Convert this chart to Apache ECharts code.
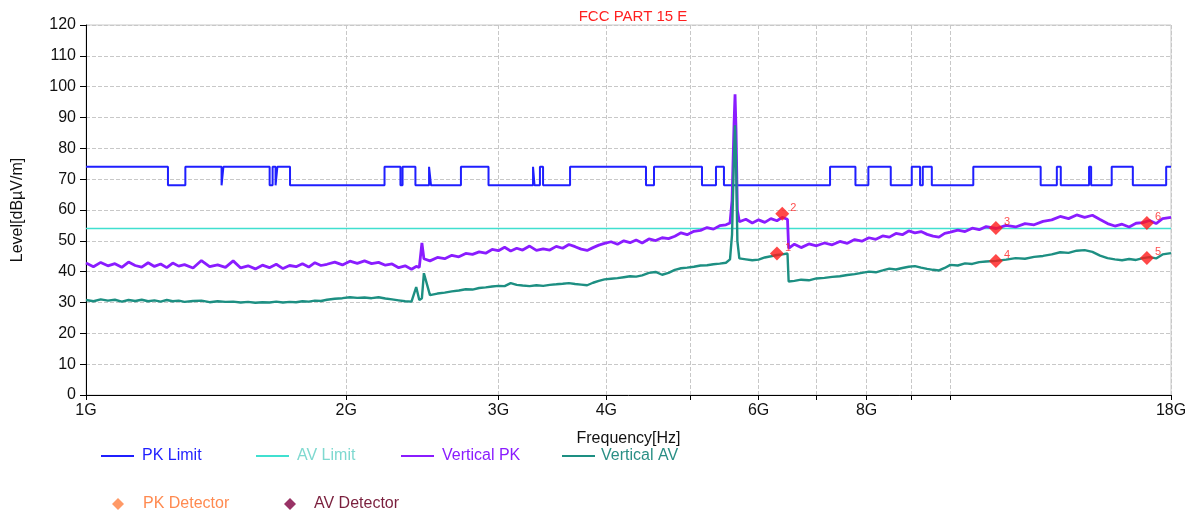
<!DOCTYPE html>
<html>
<head>
<meta charset="utf-8">
<title>FCC PART 15 E</title>
<script src="https://cdn.jsdelivr.net/npm/echarts@6/dist/echarts.min.js"></script>
<style>
  html, body { margin: 0; padding: 0; background: #fff; }
  #chart { width: 1192px; height: 515px; }
</style>
</head>
<body>
<div id="chart"></div>
<script>
// sweep points, GHz
const freqGHz = [
  1.00, 1.02, 1.04, 1.06, 1.08, 1.10, 1.12, 1.14, 1.16, 1.18,
  1.20, 1.22, 1.24, 1.26, 1.28, 1.30, 1.33, 1.36, 1.39, 1.42,
  1.45, 1.48, 1.51, 1.54, 1.57, 1.60, 1.63, 1.66, 1.69, 1.72,
  1.75, 1.78, 1.81, 1.84, 1.87, 1.90, 1.94, 1.98, 2.02, 2.06,
  2.10, 2.14, 2.18, 2.22, 2.26, 2.30, 2.34, 2.38, 2.41, 2.43,
  2.447, 2.46, 2.50, 2.55, 2.60, 2.65, 2.70, 2.75, 2.80, 2.85,
  2.90, 2.95, 3.00, 3.05, 3.10, 3.15, 3.20, 3.26, 3.32, 3.38,
  3.44, 3.50, 3.56, 3.62, 3.68, 3.74, 3.80, 3.86, 3.92, 3.98,
  4.05, 4.12, 4.19, 4.26, 4.33, 4.40, 4.48, 4.56, 4.64, 4.72,
  4.80, 4.88, 4.96, 5.05, 5.14, 5.23, 5.32, 5.41, 5.50, 5.56,
  5.59, 5.62, 5.635, 5.65, 5.67, 5.70, 5.80, 5.90, 6.00, 6.10,
  6.20, 6.30, 6.39, 6.48, 6.50, 6.60, 6.72, 6.86, 7.00, 7.15,
  7.30, 7.45, 7.60, 7.75, 7.90, 8.05, 8.20, 8.35, 8.50, 8.65,
  8.80, 8.95, 9.10, 9.25, 9.40, 9.55, 9.70, 9.85, 10.0, 10.2,
  10.4, 10.6, 10.8, 11.0, 11.3, 11.6, 11.9, 12.2, 12.5, 12.8,
  13.1, 13.4, 13.7, 14.0, 14.3, 14.6, 14.9, 15.2, 15.5, 15.8,
  16.1, 16.4, 16.7, 17.0, 17.3, 17.6, 18.0
];

const verticalPK = [
  42.8, 41.6, 43.0, 41.9, 42.6, 41.4, 43.1, 42.0, 41.5, 42.9,
  41.7, 42.5, 41.3, 42.8, 41.8, 42.3, 41.2, 43.6, 41.6, 42.2,
  41.4, 43.5, 41.2, 41.9, 40.9, 42.1, 41.3, 42.4, 41.0, 42.0,
  41.6, 42.6, 41.5, 42.9, 42.0, 42.4, 43.1, 42.2, 43.4, 42.7,
  43.5, 42.6, 43.0, 42.1, 42.5, 41.3, 41.9, 40.8, 41.7, 41.4,
  49.3, 44.2, 43.5, 44.6, 44.2, 45.3, 44.8, 45.9, 45.6, 46.4,
  46.0, 47.2, 46.8, 47.9, 46.7, 47.6, 47.0, 48.3, 46.9, 47.4,
  47.0, 48.2, 47.6, 48.8, 48.1, 47.3, 46.9, 47.8, 48.6, 49.2,
  49.7, 48.9, 50.0, 49.4, 50.3, 49.3, 50.6, 50.1, 51.0, 50.7,
  51.5, 52.6, 52.0, 53.1, 53.4, 54.3, 53.8, 54.9, 55.2, 55.8,
  63.0, 88.0, 97.5, 86.0, 60.0, 56.2, 57.0, 55.8, 56.8, 56.0,
  57.2, 56.5, 57.6, 57.0, 47.6, 48.9, 47.8, 49.0, 48.4, 49.3,
  48.7, 49.8, 49.2, 50.4, 49.9, 51.0, 50.5, 51.6, 51.2, 52.4,
  52.0, 53.2, 52.6, 53.0, 52.1, 51.5, 51.2, 52.4, 52.8, 53.5,
  53.0, 54.1, 53.6, 54.6, 54.0, 55.0, 54.5, 55.6, 55.2, 56.3,
  56.8, 57.9, 57.2, 58.4, 57.6, 58.3, 56.9, 55.6, 54.8, 55.4,
  54.5, 55.7, 55.9, 56.6, 55.6, 57.2, 57.6
];

const verticalAV = [
  30.8, 30.4, 31.0, 30.6, 30.9, 30.3, 30.8, 30.5, 30.9, 30.4,
  30.7, 30.3, 30.8, 30.4, 30.6, 30.2, 30.5, 30.6, 30.1, 30.4,
  30.2, 30.3, 30.0, 30.2, 29.9, 30.1, 30.0, 30.3, 30.0, 30.2,
  30.1, 30.4, 30.3, 30.6, 30.5, 30.9, 31.2, 31.4, 31.7, 31.5,
  31.6, 31.4, 31.7, 31.3, 31.0, 30.7, 30.4, 30.3, 35.0, 30.8,
  31.4, 39.5, 32.4, 32.9, 33.2, 33.6, 33.9, 34.3, 34.2, 34.7,
  34.9, 35.2, 35.4, 35.3, 36.3, 35.7, 35.5, 35.3, 35.6, 35.4,
  35.7, 35.9, 36.1, 36.3, 36.0, 35.8, 35.6, 36.4, 37.0, 37.5,
  37.7, 37.9, 38.2, 38.5, 38.4, 38.8, 39.6, 39.9, 39.0, 39.6,
  40.6, 41.1, 41.3, 41.6, 42.0, 42.1, 42.4, 42.6, 42.9, 44.0,
  52.0, 78.0, 87.5, 76.0, 50.0, 44.3, 44.0, 43.7, 43.9, 44.6,
  45.0, 45.4, 45.6, 45.9, 36.8, 37.0, 37.4, 37.2, 37.8, 38.0,
  38.3, 38.5, 38.9, 39.2, 39.6, 40.0, 39.8, 40.4, 41.0, 40.7,
  41.2, 41.6, 41.8, 41.3, 40.9, 40.6, 40.4, 41.2, 42.2, 42.0,
  42.7, 42.5, 43.1, 43.3, 43.5, 43.9, 44.4, 44.2, 44.8, 45.1,
  45.6, 46.3, 46.1, 46.8, 47.0, 46.4, 45.2, 44.4, 44.0, 43.7,
  44.1, 43.8, 44.4, 44.7, 44.3, 45.6, 46.0
];

// PK limit: level valid from each frequency on
const pkLimitFreq = [
  1.00, 1.244, 1.303, 1.435, 1.442, 1.631, 1.644, 1.657, 1.665, 1.722,
  2.215, 2.311, 2.324, 2.405, 2.494, 2.507, 2.715, 2.922, 3.290, 3.303,
  3.351, 3.379, 3.631, 4.445, 4.541, 5.160, 5.356, 5.471, 7.258, 7.766,
  8.038, 8.532, 9.023, 9.225, 9.292, 9.518, 10.63, 12.72, 13.28, 13.42,
  14.47, 14.55, 15.37, 16.26, 17.77, 18.0
];
const pkLimitLevel = [
  74, 68, 74, 68, 74, 68, 74, 68, 74, 68,
  74, 68, 74, 68, 74, 68, 74, 68, 74, 68,
  74, 68, 74, 68, 74, 68, 74, 68, 74, 68,
  74, 68, 74, 68, 74, 68, 74, 68, 74, 68,
  74, 68, 74, 68, 74, 74
];

const avLimitFreq = [1.0, 18.0];
const avLimitLevel = [54, 54];

const pkDetFreq = [6.39, 11.29, 16.88];
const pkDetLevel = [58.8, 54.2, 55.8];
const pkDetNo = ['2', '3', '6'];

const avDetFreq = [6.30, 11.29, 16.88];
const avDetLevel = [45.9, 43.5, 44.4];
const avDetNo = ['1', '4', '5'];

const tickFreq = [1, 2, 3, 4, 5, 6, 7, 8, 9, 10, 18];
const labelFreq = [1, 2, 3, 4, 6, 8, 18];

const FONT = 'Liberation Sans, Arial, sans-serif';

function toPairs(fs, vs) {
  return fs.map((f, i) => [Math.log10(f), vs[i]]);
}

// one legend per entry so each sits where the original put it
function lineLegend(name, left, color, textColor, pad) {
  return {
    data: [{ name: name, icon: 'rect', itemStyle: { color: color } }],
    left: left,
    top: 448,
    padding: 0,
    itemWidth: 33,
    itemHeight: 2,
    selectedMode: false,
    textStyle: { color: textColor, fontSize: 16, fontFamily: FONT, padding: [0, 0, 0, pad] }
  };
}

function markLegend(name, left, color, textColor, pad) {
  return {
    data: [{ name: name, icon: 'diamond', itemStyle: { color: color } }],
    left: left,
    top: 496,
    padding: 0,
    itemWidth: 12,
    itemHeight: 12,
    selectedMode: false,
    textStyle: { color: textColor, fontSize: 16, fontFamily: FONT, padding: [0, 0, 0, pad] }
  };
}

function detLabel() {
  return {
    show: true,
    position: 'right',
    distance: 1,
    offset: [0, -6],
    color: '#ff2020',
    fontSize: 11,
    fontFamily: FONT,
    formatter: p => p.data.no
  };
}

const chart = echarts.init(document.getElementById('chart'));

const option = {
  animation: false,
  backgroundColor: '#fff',
  title: {
    text: 'FCC PART 15 E',
    left: 628,
    top: 4,
    textAlign: 'center',
    textStyle: { color: '#ff2020', fontSize: 15, fontWeight: 'normal', fontFamily: FONT }
  },
  legend: [
    lineLegend('PK Limit', 101, '#1f1fff', '#1f1fff', 3),
    lineLegend('AV Limit', 256, '#40e0d0', '#7fd9d0', 3),
    lineLegend('Vertical PK', 401, '#8a1cff', '#8a1cff', 3),
    lineLegend('Vertical AV', 562, '#1d8f82', '#2a8f85', 1),
    markLegend('PK Detector', 112, '#ff8040', '#ff8a50', 14),
    markLegend('AV Detector', 284, '#800040', '#7a1f3d', 13)
  ],
  grid: { left: 86, right: 21, top: 25, bottom: 120, show: true, borderColor: '#c8c8c8', borderWidth: 1 },
  xAxis: {
    type: 'value',
    min: 0,
    max: Math.log10(18),
    name: 'Frequency[Hz]',
    nameLocation: 'middle',
    nameGap: 36,
    nameTextStyle: { color: '#111', fontSize: 16, fontFamily: FONT },
    axisLine: { onZero: false, lineStyle: { color: '#000', width: 1 } },
    axisTick: { length: 5, lineStyle: { color: '#000' }, customValues: tickFreq.map(f => Math.log10(f)) },
    axisLabel: {
      color: '#111',
      fontSize: 16,
      fontFamily: FONT,
      margin: 8,
      customValues: labelFreq.map(f => Math.log10(f)),
      formatter: v => Math.round(Math.pow(10, v)) + 'G'
    },
    splitLine: { show: true, lineStyle: { color: '#c8c8c8', type: 'dashed' } }
  },
  yAxis: {
    type: 'value',
    min: 0,
    max: 120,
    interval: 10,
    name: 'Level[dBµV/m]',
    nameLocation: 'middle',
    nameRotate: 90,
    nameGap: 60,
    nameTextStyle: { color: '#111', fontSize: 16, fontFamily: FONT },
    axisLine: { show: true, lineStyle: { color: '#000', width: 1 } },
    axisTick: { show: true, length: 6, lineStyle: { color: '#000' } },
    axisLabel: { color: '#111', fontSize: 16, fontFamily: FONT, margin: 10 },
    splitLine: { show: true, lineStyle: { color: '#c8c8c8', type: 'dashed' } }
  },
  series: [
    {
      name: 'PK Limit',
      type: 'line',
      step: 'end',
      symbol: 'none',
      data: toPairs(pkLimitFreq, pkLimitLevel),
      lineStyle: { color: '#1f1fff', width: 2 },
      itemStyle: { color: '#1f1fff' }
    },
    {
      name: 'AV Limit',
      type: 'line',
      symbol: 'none',
      data: toPairs(avLimitFreq, avLimitLevel),
      lineStyle: { color: '#40e0d0', width: 1.5 },
      itemStyle: { color: '#40e0d0' }
    },
    {
      name: 'Vertical PK',
      type: 'line',
      symbol: 'none',
      data: toPairs(freqGHz, verticalPK),
      lineStyle: { color: '#8a1cff', width: 2.8 },
      itemStyle: { color: '#8a1cff' }
    },
    {
      name: 'Vertical AV',
      type: 'line',
      symbol: 'none',
      data: toPairs(freqGHz, verticalAV),
      lineStyle: { color: '#1d8f82', width: 2.4 },
      itemStyle: { color: '#1d8f82' }
    },
    {
      name: 'PK Detector',
      type: 'scatter',
      symbol: 'diamond',
      symbolSize: 14,
      z: 5,
      data: pkDetFreq.map((f, i) => ({ value: [Math.log10(f), pkDetLevel[i]], no: pkDetNo[i] })),
      itemStyle: { color: '#ff1a1a' },
      label: detLabel()
    },
    {
      name: 'AV Detector',
      type: 'scatter',
      symbol: 'diamond',
      symbolSize: 14,
      z: 5,
      data: avDetFreq.map((f, i) => ({ value: [Math.log10(f), avDetLevel[i]], no: avDetNo[i] })),
      itemStyle: { color: '#ff1a1a' },
      label: detLabel()
    }
  ]
};

chart.setOption(option);
</script>
</body>
</html>
